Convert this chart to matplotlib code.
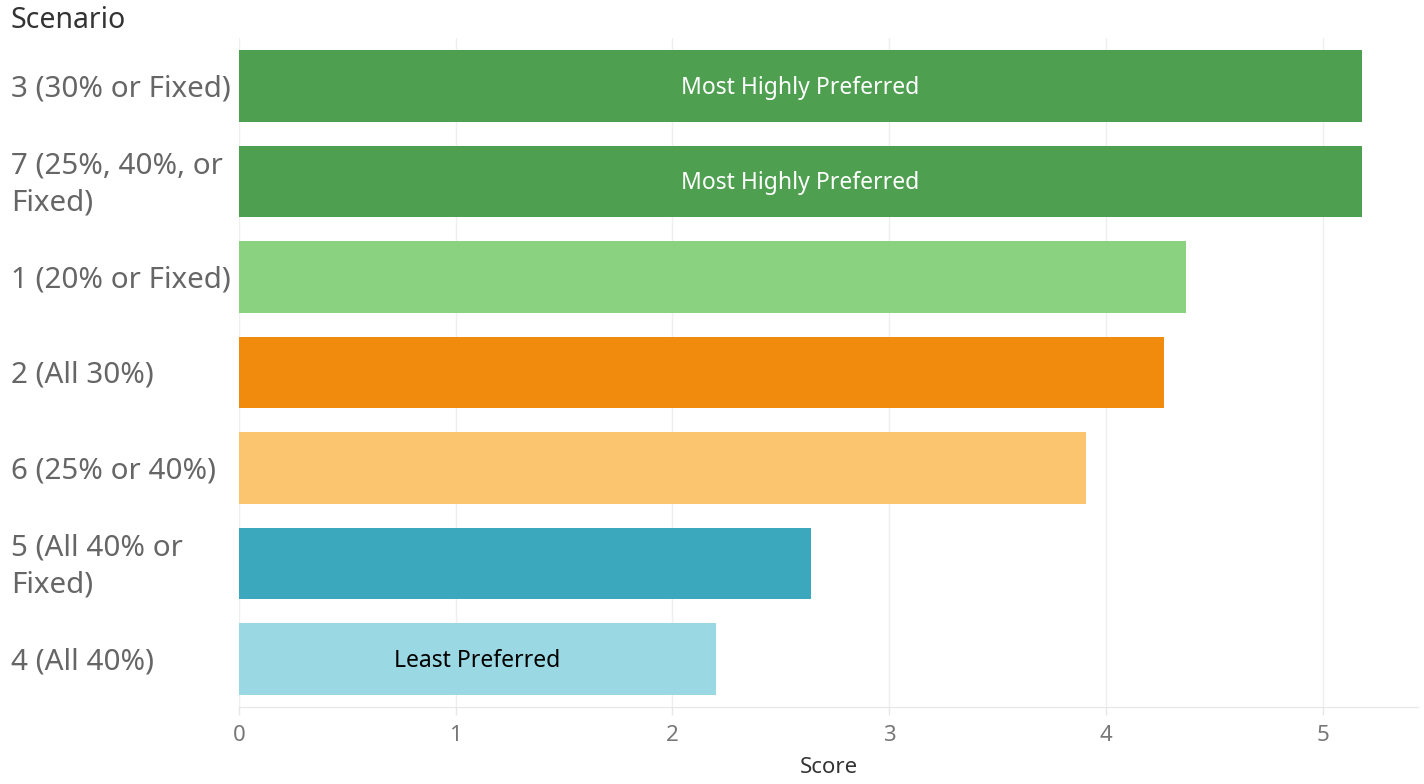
import matplotlib.pyplot as plt
from matplotlib.transforms import blended_transform_factory

plt.rcParams['font.family'] = ['Noto Sans', 'DejaVu Sans']

# scenario labels, top to bottom
scenarios = ['3 (30% or Fixed)', '7 (25%, 40%, or\nFixed)', '1 (20% or Fixed)',
             '2 (All 30%)', '6 (25% or 40%)', '5 (All 40% or\nFixed)', '4 (All 40%)']
scores = [5.18, 5.18, 4.37, 4.27, 3.91, 2.64, 2.20]
notes = ['Most Highly Preferred', 'Most Highly Preferred', '', '', '', '', 'Least Preferred']
colors = ['#4e9f50', '#4e9f50', '#8bd280', '#f08b0e', '#fbc56f', '#3ca8bd', '#9ad9e3']
note_colors = ['white', 'white', 'black', 'black', 'black', 'black', 'black']

fig = plt.figure(figsize=(14.24, 7.84), dpi=100)
ax = fig.add_axes([0.1678, 0.0982, 0.828, 0.8533])

ypos = list(range(len(scenarios)))
ax.barh(ypos, scores, height=0.75, color=colors, zorder=2)
ax.set_ylim(6.5, -0.5)
ax.set_xlim(0, 5.44)

for y, s, n, c in zip(ypos, scores, notes, note_colors):
    if n:
        ax.text(s / 2, y + 0.02, n, ha='center', va='center', fontsize=16.5, color=c, zorder=3)

# y labels left-aligned at the figure edge
trans = blended_transform_factory(fig.transFigure, ax.transData)
for y, lab in zip(ypos, scenarios):
    ax.text(11 / 1424, y + 0.03, lab, transform=trans, ha='left', va='center',
            fontsize=21.3, color='#666666', linespacing=1.38)
ax.set_yticks([])

fig.text(11 / 1424, 1 - 21 / 784, 'Scenario', ha='left', va='center',
         fontsize=20.5, color='#333333')

ax.set_xticks(range(6))
ax.tick_params(axis='x', colors='#e6e6e6', labelcolor='#777777', labelsize=16,
               length=6, width=1, pad=7)
ax.grid(axis='x', color='#efefef', linewidth=1, zorder=0)
for sp in ['top', 'right', 'left']:
    ax.spines[sp].set_visible(False)
ax.spines['bottom'].set_color('#e6e6e6')
ax.set_xlabel('Score', fontsize=16, color='#333333', labelpad=8)

plt.savefig('out.png', dpi=100)
